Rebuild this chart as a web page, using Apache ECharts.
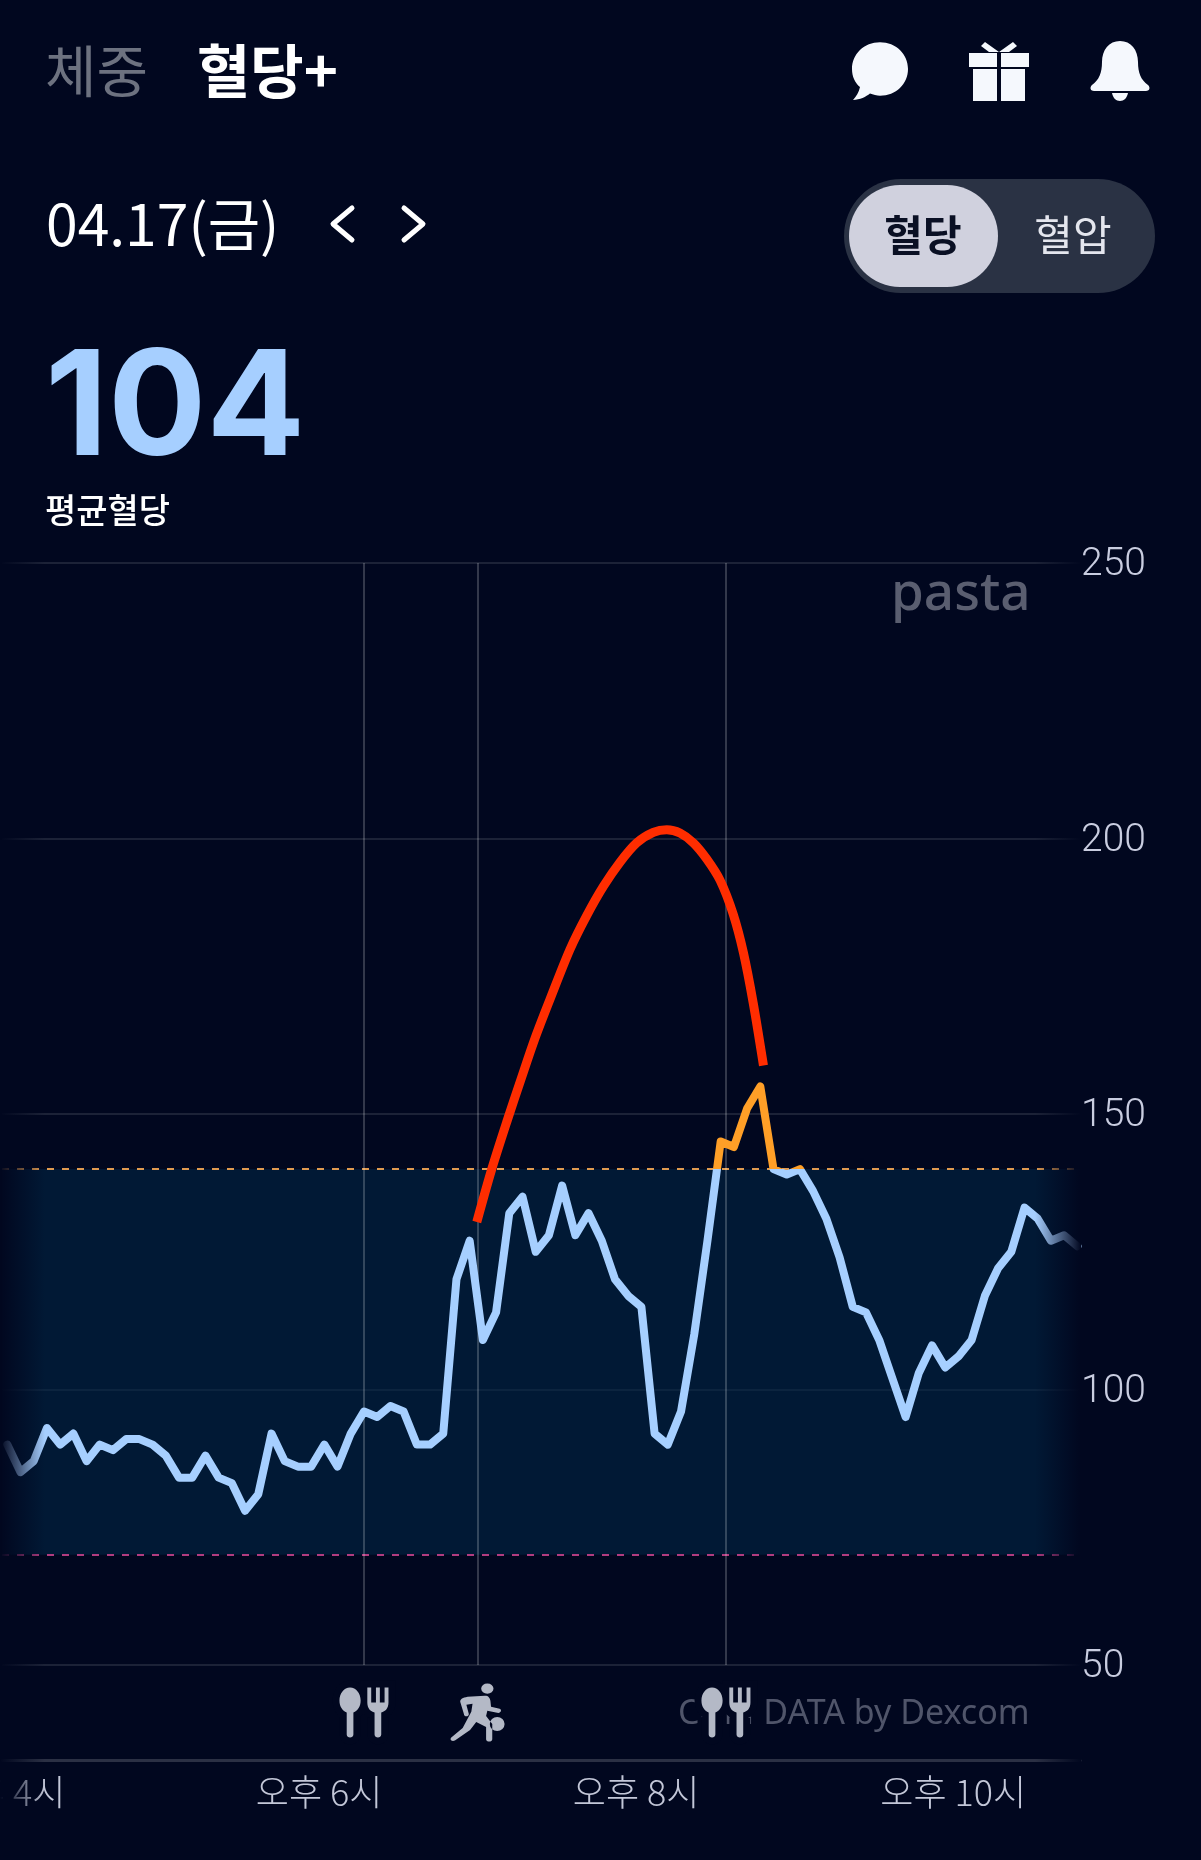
<!DOCTYPE html>
<html>
<head>
<meta charset="utf-8">
<style>
  html, body { margin: 0; padding: 0; background: #01071f; }
  #chart { width: 1201px; height: 1860px; }
</style>
<script src="https://cdn.jsdelivr.net/npm/echarts@6/dist/echarts.min.js"></script>
</head>
<body>
<div id="chart"></div>
<script>
// 시간은 자정부터 분 단위
const glucoseTimes = [
  962, 967, 972, 977, 982, 987, 992, 997, 1002, 1007,
  1012, 1017, 1022, 1027, 1032, 1037, 1042, 1047, 1052, 1057,
  1062, 1067, 1072, 1077, 1082, 1087, 1092, 1097, 1102, 1107,
  1112, 1117, 1122, 1127, 1132, 1137, 1142, 1147, 1152, 1157,
  1162, 1167, 1172, 1177, 1182, 1187, 1192, 1197, 1202, 1207,
  1212, 1217, 1222, 1227, 1232, 1237, 1242, 1247, 1252, 1257,
  1262, 1267, 1272, 1277, 1282, 1287, 1292, 1297, 1302, 1307,
  1312, 1317, 1322, 1327, 1332, 1337, 1342, 1347, 1352, 1357,
  1362, 1367
];
const glucoseValues = [
  90, 85, 87, 93, 90, 92, 87, 90, 89, 91,
  91, 90, 88, 84, 84, 88, 84, 83, 78, 81,
  92, 87, 86, 86, 90, 86, 92, 96, 95, 97,
  96, 90, 90, 92, 120, 127, 109, 114, 132, 135,
  125, 128, 137, 128, 132, 127, 120, 117, 115, 92,
  90, 96, 110, 127, 145, 144, 151, 155, 140, 139,
  140, 136, 131, 124, 115, 114, 109, 102, 95, 103,
  108, 104, 106, 109, 117, 122, 125, 133, 131, 127,
  128, 126
];
const curveTimes = [
  1139.7, 1145.3, 1151, 1156.7, 1161.7, 1167.4, 1175, 1181.3, 1187.6, 1193.9, 1200.2,
  1206.5, 1211.6, 1216.6, 1221.7, 1226.7, 1231.8, 1236.8, 1240.6, 1244.3, 1248.2
];
const curveValues = [
  130.4, 139.9, 148.5, 156.7, 163.7, 170.8, 179.9, 186, 191.3, 195.7, 199.2,
  201.1, 201.6, 201, 199.2, 196.3, 192.4, 186.2, 179.3, 170.2, 158.8
];
const mealTimes = [1097, 1234];
const activityTimes = [1140];
const eventTimes = [1097, 1140, 1234];
const tickMinutes = [960, 1080, 1200, 1320];
const tickLabels = ['오후 4시', '오후 6시', '오후 8시', '오후 10시'];
const rangeLow = 70;
const rangeHigh = 140;

const BG = '#01071f';
const KR = '"Noto Sans CJK KR", sans-serif';
const LINE_BLUE = '#a6cfff';
const LINE_ORANGE = '#ff9f27';

const MEAL_ICON = 'path://M9.5 0C4 0 0 6 0 13C0 19 2.5 23 6.5 25L6.5 47C6.5 51 12.5 51 12.5 47L12.5 25C16.5 23 19 19 19 13C19 6 15 0 9.5 0Z' +
  'M25 0H28.5V15H32.75V0H36.25V15H40.5V0H44V15C44 21 41 24 37.5 25V47C37.5 51 31.5 51 31.5 47V25C28 24 25 21 25 15Z';
const RUN_ICON = 'path://M27 5a5 5 0 1 0 10 0a5 5 0 1 0 -10 0Z' +
  'M34 40a6 7 0 1 0 12 0a6 7 0 1 0 -12 0Z' +
  'M16 13L30 12C33 12 34 14 34.5 17L35 23L42 25C44 26 43 29 41 29L32 27L31 32L36 40L36 55C36 58 31 58 31 55L31 43L23 38L18 46L6 56C3 58 1 55 3 53L12 44L19 28L20 20L15 21L17 30C17 33 13 33 13 30L10 18C10 15 12 14 16 13Z';

// graphic 컴포넌트는 path 타입이 없어서 직접 등록
echarts.graphic.registerShape('chatIcon', echarts.graphic.extendPath('M30 2C14 2 2 13 2 27C2 34 5 40 10 44C9 49 6 53 3 56C10 56 16 53 20 50C23 51 27 52 30 52C46 52 58 41 58 27C58 13 46 2 30 2Z', {}));
echarts.graphic.registerShape('giftIcon', echarts.graphic.extendPath('M0 12H28V26H0ZM32 12H60V26H32ZM4 28H28V60H4ZM32 28H56V60H32ZM16 1L30 11H20L12 5ZM44 1L30 11H40L48 5Z', {}));
echarts.graphic.registerShape('bellIcon', echarts.graphic.extendPath('M30 0C19 0 12 9 12 21C12 32 9 39 2 44C-1 47 1 50 4 50H56C59 50 61 47 58 44C51 39 48 32 48 21C48 9 41 0 30 0ZM22 52H38C37 57 34 60 30 60C26 60 23 57 22 52Z', {}));

function headerText(text, x, y, font, color, align, z) {
  return {
    type: 'text', z: z || 52, x: x, y: y,
    style: { text: text, font: font, fill: color, align: align || 'left', verticalAlign: 'middle' }
  };
}

function icon(name, x, y, scaleY) {
  return { type: name, z: 50, x: x, y: y, scaleY: scaleY || 1, style: { fill: '#f5f8fd' } };
}

function chevron(points) {
  return {
    type: 'polyline', z: 50,
    shape: { points: points },
    style: { stroke: '#ffffff', fill: null, lineWidth: 5, lineCap: 'round', lineJoin: 'round' }
  };
}

function fade(x, w, fromOpaque) {
  const solid = 'rgba(1,7,31,1)';
  const clear = 'rgba(1,7,31,0)';
  return {
    type: 'rect', z: 40,
    shape: { x: x, y: 550, width: w, height: 1280 },
    style: {
      fill: new echarts.graphic.LinearGradient(0, 0, 1, 0, [
        { offset: 0, color: fromOpaque ? solid : clear },
        { offset: 1, color: fromOpaque ? clear : solid }
      ])
    }
  };
}

const chart = echarts.init(document.getElementById('chart'), null, { renderer: 'canvas' });

chart.setOption({
  animation: false,
  backgroundColor: BG,
  grid: [
    { left: 2, right: 121, top: 563, height: 1102, outerBoundsMode: 'none' },
    { left: 2, right: 121, top: 1665, height: 95, outerBoundsMode: 'none' }
  ],
  xAxis: [
    { gridIndex: 0, type: 'value', min: 960, max: 1368, interval: 120, show: false, splitLine: { show: false } },
    {
      gridIndex: 1, type: 'value', min: 960, max: 1368, interval: 120,
      axisLine: { show: true, onZero: false, lineStyle: { color: '#2b3044', width: 3 } },
      axisTick: { show: false },
      splitLine: { show: false },
      axisLabel: {
        color: '#c3c7d8', fontFamily: KR, fontSize: 36, fontWeight: 300, margin: 14,
        showMaxLabel: false,
        formatter: function (v) {
          const i = tickMinutes.indexOf(v);
          return i >= 0 ? tickLabels[i] : '';
        }
      }
    }
  ],
  yAxis: [
    {
      gridIndex: 0, type: 'value', position: 'right', min: 50, max: 250, interval: 50,
      axisLine: { show: false }, axisTick: { show: false },
      axisLabel: {
        margin: 1, align: 'left',
        formatter: '{a|{value}}',
        rich: {
          a: { color: '#c9cde0', fontFamily: 'Roboto', fontWeight: 300, fontSize: 39, padding: [5, 0, 0, 0] }
        }
      },
      splitLine: { lineStyle: { color: 'rgba(255,255,255,0.11)', width: 2 } }
    },
    { gridIndex: 1, type: 'value', min: 0, max: 1, show: false, splitLine: { show: false } }
  ],
  series: [
    {
      name: '혈당', type: 'line', xAxisIndex: 0, yAxisIndex: 0, z: 6,
      data: glucoseTimes.map((t, i) => [t, glucoseValues[i]]),
      showSymbol: false,
      lineStyle: { width: 8, color: LINE_BLUE, join: 'round', cap: 'round' }
    },
    {
      name: '예측', type: 'line', xAxisIndex: 0, yAxisIndex: 0, z: 7,
      data: curveTimes.map((t, i) => [t, curveValues[i]]),
      smooth: 0.3, showSymbol: false,
      lineStyle: { width: 9, color: '#ff2d00', cap: 'butt' },
      itemStyle: { color: '#ff2d00' }
    },
    {
      name: '범위', type: 'line', xAxisIndex: 0, yAxisIndex: 0, z: 3, data: [],
      markArea: {
        silent: true,
        itemStyle: { color: 'rgba(1,39,69,0.6)' },
        data: [[{ yAxis: rangeLow }, { yAxis: rangeHigh }]]
      },
      markLine: {
        silent: true, symbol: 'none', label: { show: false },
        data: [
          { yAxis: rangeHigh, lineStyle: { color: '#e09a50', width: 2, type: [7, 8] } },
          { yAxis: rangeLow, lineStyle: { color: '#b23c80', width: 2, type: [7, 8] } }
        ].concat(eventTimes.map(t => ({
          xAxis: t, lineStyle: { color: 'rgba(255,255,255,0.2)', width: 2, type: 'solid' }
        })))
      }
    },
    {
      // 워터마크 글자를 가리는 아이콘 테두리
      name: '식사 배경', type: 'scatter', xAxisIndex: 1, yAxisIndex: 1, z: 7, silent: true,
      data: mealTimes.map(t => [t, 0.5]),
      symbol: MEAL_ICON, symbolSize: [49, 50],
      itemStyle: { color: BG, borderColor: BG, borderWidth: 14, opacity: 1 }
    },
    {
      name: '식사', type: 'scatter', xAxisIndex: 1, yAxisIndex: 1, z: 8,
      data: mealTimes.map(t => [t, 0.5]),
      symbol: MEAL_ICON, symbolSize: [49, 50],
      itemStyle: { color: '#b4b9c6', opacity: 1 }
    },
    {
      name: '운동', type: 'scatter', xAxisIndex: 1, yAxisIndex: 1, z: 8,
      data: activityTimes.map(t => [t, 0.5]),
      symbol: RUN_ICON, symbolSize: [54, 58],
      itemStyle: { color: '#b4b9c6', opacity: 1 }
    }
  ],
  graphic: { elements: [
    headerText('체중', 45, 71, '400 56px ' + KR, '#6d7280'),
    headerText('혈당+', 197, 71, '700 58px ' + KR, '#ffffff'),
    icon('chatIcon', 850, 40, 1.07),
    icon('giftIcon', 969, 41),
    icon('bellIcon', 1090, 41),
    headerText('04.17(금)', 46, 224, '400 57px ' + KR, '#ffffff'),
    chevron([[352, 208], [333, 224], [352, 240]]),
    chevron([[404, 208], [423, 224], [404, 240]]),
    { type: 'rect', z: 50, shape: { x: 844, y: 179, width: 311, height: 114, r: 57 }, style: { fill: '#2a3244' } },
    { type: 'rect', z: 51, shape: { x: 849, y: 185, width: 149, height: 102, r: 51 }, style: { fill: '#d0d1de' } },
    headerText('혈당', 923, 235, '700 42px ' + KR, '#0a1024', 'center'),
    headerText('혈압', 1073, 235, '400 42px ' + KR, '#e4e6ee', 'center'),
    headerText('104', 45, 411, '700 146px Inter', LINE_BLUE),
    headerText('평균혈당', 45, 510, '500 34px ' + KR, '#ffffff'),
    headerText('pasta', 891, 595, '500 53px "Noto Sans"', '#5a5e70'),
    headerText('CGM DATA by Dexcom', 678, 1714, '400 34px "Noto Sans"', '#50556a', 'left', 1),
    fade(0, 45, true),
    fade(1035, 46, false)
  ] }
});

// 140 위쪽만 주황색: 축 스케일로 y 위치를 구해서 전역 그라디언트로 끊는다
const yHigh = chart.convertToPixel({ xAxisIndex: 0, yAxisIndex: 0 }, [960, rangeHigh])[1];
const yTop = chart.convertToPixel({ xAxisIndex: 0, yAxisIndex: 0 }, [960, 250])[1];
const yBottom = chart.convertToPixel({ xAxisIndex: 0, yAxisIndex: 0 }, [960, 50])[1];
const cut = (yHigh - yTop) / (yBottom - yTop);
chart.setOption({
  series: [{
    lineStyle: {
      color: new echarts.graphic.LinearGradient(0, yTop, 0, yBottom, [
        { offset: 0, color: LINE_ORANGE },
        { offset: cut, color: LINE_ORANGE },
        { offset: cut, color: LINE_BLUE },
        { offset: 1, color: LINE_BLUE }
      ], true)
    }
  }]
});
</script>
</body>
</html>
